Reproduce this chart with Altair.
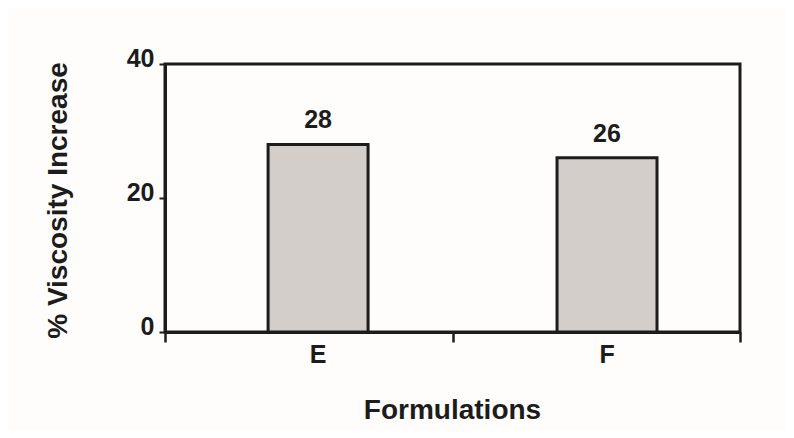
import altair as alt
import pandas as pd

categories = ["E", "F"]
values = [28, 26]
boundaries = [0, 1, 2]

df = pd.DataFrame({"formulation": categories, "increase": values})
bdf = pd.DataFrame({"b": boundaries})

FONT = "Liberation Sans"
INK = "#1c1c1c"
LBL = 25
TTL = 28
LW = 3

xband = alt.X(
    "formulation:N",
    sort=categories,
    scale=alt.Scale(paddingInner=0.654, paddingOuter=0.322, align=0.554),
    axis=alt.Axis(
        title="Formulations", titleFont=FONT, titleFontSize=TTL, titleFontWeight="bold",
        titleColor=INK, titleX=287, titleY=78, titleBaseline="middle",
        labelFont=FONT, labelFontSize=LBL, labelFontWeight="bold", labelColor=INK,
        labelAngle=0, labelPadding=10, labelBaseline="top",
        ticks=False, domain=False,
    ),
)
yq = alt.Y(
    "increase:Q",
    scale=alt.Scale(domain=[0, 40]),
    axis=alt.Axis(
        values=[0, 20, 40], title="% Viscosity Increase", titleFont=FONT,
        titleFontSize=TTL, titleFontWeight="bold", titleColor=INK,
        titleX=-107, titleY=136, titleAlign="center", titleBaseline="middle", titleAngle=-90,
        labelFont=FONT, labelFontSize=LBL, labelFontWeight="bold", labelColor=INK,
        labelBaseline="alphabetic", labelOffset=2, labelPadding=5,
        tickSize=6, tickColor=INK, tickWidth=2, domainColor=INK, domainWidth=LW,
        grid=False,
    ),
)

bars = alt.Chart(df).mark_bar(fill="#d4ceca", stroke=INK, strokeWidth=LW).encode(x=xband, y=yq)
labels = alt.Chart(df).mark_text(
    font=FONT, fontSize=LBL, fontWeight="bold", color=INK, baseline="alphabetic", dy=-16
).encode(x=alt.X("formulation:N", sort=categories), y="increase:Q", text="increase:Q")

frame = alt.Chart(bdf).mark_point(opacity=0).encode(
    x=alt.X(
        "b:Q",
        scale=alt.Scale(domain=[0, len(categories)], nice=False),
        axis=alt.Axis(
            orient="bottom", values=boundaries, labels=False, title=None,
            tickSize=10, tickColor=INK, tickWidth=2.5, domainColor=INK, domainWidth=LW,
            grid=False,
        ),
    )
)

chart = (
    alt.layer(bars + labels, frame)
    .resolve_scale(x="independent")
    .properties(
        width=575, height=268,
        autosize=alt.AutoSizeParams(type="none"),
        padding={"left": 157, "top": 56, "right": 46, "bottom": 98},
        background="#fefdfb",
    )
    .configure_view(stroke=INK, strokeWidth=LW)
)

chart.save("out.html", embed_options={"renderer": "svg", "actions": False})
